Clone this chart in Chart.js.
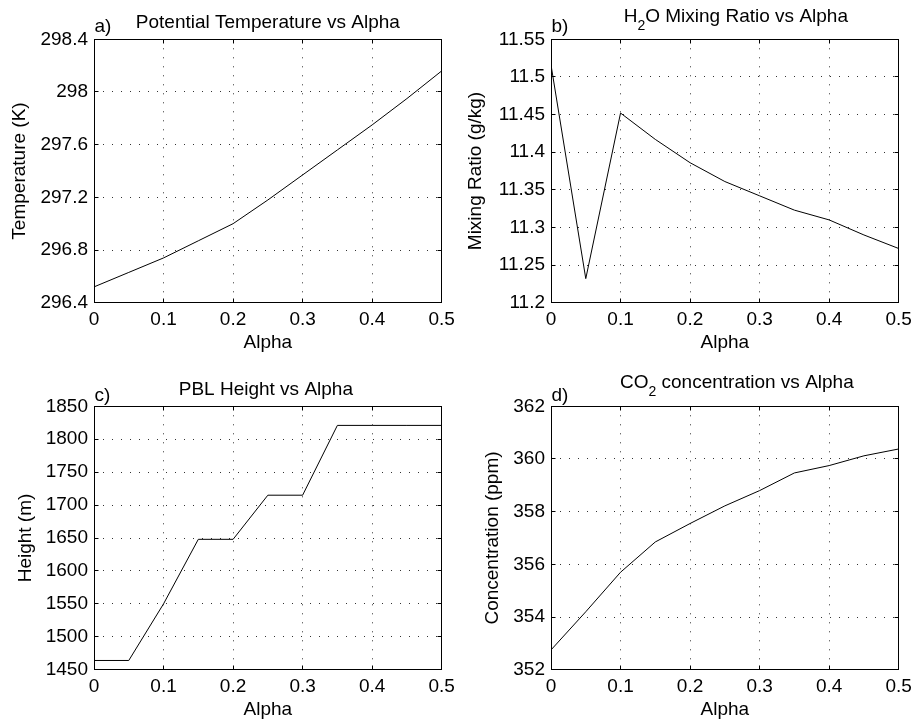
<!doctype html>
<html lang="en">
<head>
    <meta charset="UTF-8">
    <title>Alpha sensitivity</title>
    <script src="https://cdn.jsdelivr.net/npm/chart.js"></script>
    <style>
        html, body { margin: 0; padding: 0; background: #fff; overflow: hidden; }
        body { width: 912px; height: 721px; position: relative; }
        .panel { position: absolute; width: 456px; height: 360px; }
    </style>
</head>
<body>
<div class="panel" style="left:0;top:0"><canvas id="theta" width="456" height="360"></canvas></div>
<div class="panel" style="left:457px;top:0"><canvas id="mixing" width="456" height="360"></canvas></div>
<div class="panel" style="left:0;top:367px"><canvas id="pbl" width="456" height="360"></canvas></div>
<div class="panel" style="left:457px;top:367px"><canvas id="co2" width="456" height="360"></canvas></div>
<script>
  const alpha = [0, 0.05, 0.1, 0.15, 0.2, 0.25, 0.3, 0.35, 0.4, 0.45, 0.5];
  const alphaTicks = [0, 0.1, 0.2, 0.3, 0.4, 0.5];

  const theta = [296.52, 296.63, 296.74, 296.87, 297.0, 297.18, 297.37, 297.56, 297.75, 297.95, 298.16];
  const thetaTicks = [296.4, 296.8, 297.2, 297.6, 298, 298.4];

  const mixing = [11.516, 11.232, 11.452, 11.417, 11.386, 11.361, 11.342, 11.323, 11.31, 11.29, 11.272];
  const mixingTicks = [11.2, 11.25, 11.3, 11.35, 11.4, 11.45, 11.5, 11.55];

  const pblHeight = [1464, 1464, 1550, 1648, 1648, 1715, 1715, 1821, 1821, 1821, 1821];
  const heightTicks = [1450, 1500, 1550, 1600, 1650, 1700, 1750, 1800, 1850];

  const co2 = [352.75, 354.2, 355.7, 356.85, 357.55, 358.22, 358.8, 359.47, 359.75, 360.12, 360.38];
  const co2Ticks = [352, 354, 356, 358, 360, 362];

  const FONT = "'Liberation Sans', Arial, Helvetica, sans-serif";

  function align(chart, px) {
    return Math.round(px - 0.5) + 0.5;
  }

  // box, inner ticks, title and panel letter, drawn the way matlab does it
  const matlabFrame = {
    id: 'matlabFrame',
    afterDraw(chart, args, opts) {
      const {ctx, chartArea: a, scales: {x, y}} = chart;
      const L = align(chart, a.left), R = align(chart, a.right);
      const T = align(chart, a.top), B = align(chart, a.bottom);
      ctx.save();
      ctx.strokeStyle = '#000';
      ctx.lineWidth = 1;
      ctx.strokeRect(L, T, R - L, B - T);
      ctx.beginPath();
      x.ticks.forEach(t => {
        const px = align(chart, x.getPixelForValue(t.value));
        ctx.moveTo(px, B); ctx.lineTo(px, B - 4);
        ctx.moveTo(px, T); ctx.lineTo(px, T + 4);
      });
      y.ticks.forEach(t => {
        const py = align(chart, y.getPixelForValue(t.value));
        ctx.moveTo(L, py); ctx.lineTo(L + 4, py);
        ctx.moveTo(R, py); ctx.lineTo(R - 4, py);
      });
      ctx.stroke();

      // title with optional subscript
      ctx.fillStyle = '#000';
      ctx.textBaseline = 'alphabetic';
      ctx.textAlign = 'left';
      const mainFont = '19px ' + FONT, subFont = '14px ' + FONT;
      let width = 0;
      opts.title.forEach(seg => {
        ctx.font = seg.sub ? subFont : mainFont;
        width += ctx.measureText(seg.t).width;
      });
      let cx = (a.left + a.right) / 2 + opts.dx - width / 2;
      const base = a.top - opts.lift;
      opts.title.forEach(seg => {
        ctx.font = seg.sub ? subFont : mainFont;
        ctx.fillText(seg.t, cx, seg.sub ? base + 8 : base);
        cx += ctx.measureText(seg.t).width;
      });

      ctx.font = mainFont;
      ctx.fillText(opts.letter, a.left + 0.5, a.top - opts.letterLift);
      ctx.restore();
    }
  };

  function makeChart(id, values, ticks, yLabel, yPad, frame) {
    const font = {family: FONT, size: 19};
    new Chart(document.getElementById(id), {
      type: 'line',
      data: {
        datasets: [{
          data: alpha.map((a, i) => ({x: a, y: values[i]})),
          borderColor: '#000',
          borderWidth: 1,
          pointRadius: 0,
          tension: 0,
          fill: false
        }]
      },
      options: {
        responsive: false,
        animation: false,
        events: [],
        layout: {padding: {top: 39.3, right: 14.3, bottom: 0, left: 0}},
        plugins: {
          legend: {display: false},
          tooltip: {enabled: false},
          matlabFrame: frame
        },
        scales: {
          x: {
            type: 'linear',
            min: 0,
            max: 0.5,
            afterBuildTicks: s => { s.ticks = alphaTicks.map(v => ({value: v})); },
            afterFit: s => {
              s.height = 57.3;
              s.paddingLeft = s.paddingRight = s.paddingTop = s.paddingBottom = 0;
            },
            grid: {color: '#333', lineWidth: 1, drawTicks: false},
            border: {display: false, dash: [1, 8]},
            ticks: {color: '#000', font: font, padding: 6, maxRotation: 0, autoSkip: false,
              callback: v => String(v)},
            title: {display: true, text: 'Alpha', color: '#000', font: font, padding: {top: 0, bottom: 6}}
          },
          y: {
            type: 'linear',
            min: ticks[0],
            max: ticks[ticks.length - 1],
            afterBuildTicks: s => { s.ticks = ticks.map(v => ({value: v})); },
            afterFit: s => {
              s.width = 94;
              s.paddingLeft = s.paddingRight = s.paddingTop = s.paddingBottom = 0;
            },
            grid: {color: '#333', lineWidth: 1, drawTicks: false},
            border: {display: false, dash: [1, 8]},
            ticks: {color: '#000', font: font, padding: 6, autoSkip: false,
              callback: v => String(v)},
            title: {display: true, text: yLabel, color: '#000', font: font, padding: {top: yPad, bottom: 0}}
          }
        }
      },
      plugins: [matlabFrame]
    });
  }

  makeChart('theta', theta, thetaTicks, 'Temperature (K)', 8.3, {
    title: [{t: 'Potential Temperature vs Alpha'}], dx: 0, lift: 11, letter: 'a)', letterLift: 7
  });
  makeChart('mixing', mixing, mixingTicks, 'Mixing Ratio (g/kg)', 7.3, {
    title: [{t: 'H'}, {t: '2', sub: true}, {t: 'O Mixing Ratio vs Alpha'}], dx: 11, lift: 17.6, letter: 'b)', letterLift: 7
  });
  makeChart('pbl', pblHeight, heightTicks, 'Height (m)', 13.9, {
    title: [{t: 'PBL Height vs Alpha'}], dx: -2, lift: 11, letter: 'c)', letterLift: 5.5
  });
  makeChart('co2', co2, co2Ticks, 'Concentration (ppm)', 23.9, {
    title: [{t: 'CO'}, {t: '2', sub: true}, {t: ' concentration vs Alpha'}], dx: 12, lift: 18.7, letter: 'd)', letterLift: 5.5
  });
</script>
</body>
</html>
